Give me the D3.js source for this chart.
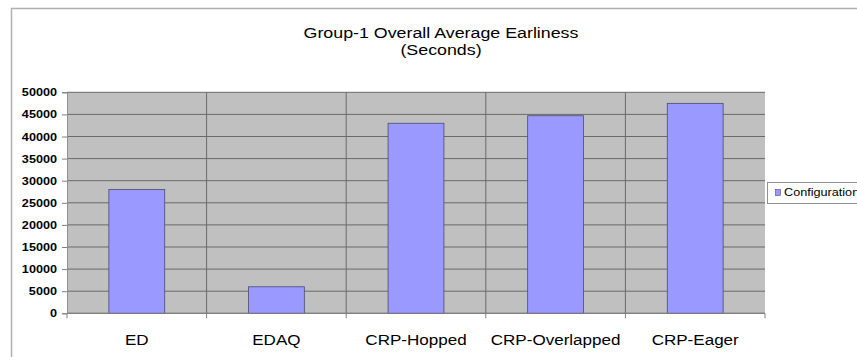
<!DOCTYPE html>
<html><head><meta charset="utf-8">
<script src="https://cdn.jsdelivr.net/npm/d3@7"></script>
<style>body{margin:0;background:#fff}svg{display:block}text{font-family:"Liberation Sans",Arial,sans-serif;fill:#000}</style>
</head><body><svg id="c" width="857" height="357"></svg>
<script>
const categories = ["ED","EDAQ","CRP-Hopped","CRP-Overlapped","CRP-Eager"];
const values = [28000,6000,43000,44700,47500];
const yTicks = [0,5000,10000,15000,20000,25000,30000,35000,40000,45000,50000];
const seriesName = "Configuration";
const titleLines = ["Group-1 Overall Average Earliness","(Seconds)"];

const svg = d3.select("#c");
const L=67,R=765,T=92.3,B=313.3, SX=1.15;
// outer chart frame
svg.append("rect").attr("x",11.5).attr("y",8.5).attr("width",900).attr("height",400)
  .attr("fill","none").attr("stroke","#b0b0b0").attr("stroke-width",1.5);

const x = d3.scaleBand().domain(categories).range([L,R]).paddingInner(0).paddingOuter(0);
const y = d3.scaleLinear().domain([0,50000]).range([B,T]);

svg.append("rect").attr("x",L).attr("y",T).attr("width",R-L).attr("height",B-T).attr("fill","#c0c0c0");

// horizontal grid
svg.append("g").selectAll("line").data(yTicks).join("line")
  .attr("x1",L).attr("x2",R).attr("y1",d=>y(d)).attr("y2",d=>y(d))
  .attr("stroke","#6a6a6a").attr("stroke-width",1);
// vertical grid at category boundaries
const bounds = categories.map(c=>x(c)).concat([R]);
svg.append("g").selectAll("line").data(bounds.slice(1,-1)).join("line")
  .attr("x1",d=>d).attr("x2",d=>d).attr("y1",T).attr("y2",B)
  .attr("stroke","#6a6a6a").attr("stroke-width",1);

// bars
const bw = x.bandwidth()*0.4;
svg.append("g").selectAll("rect").data(values).join("rect")
  .attr("x",(d,i)=>x(categories[i])+x.bandwidth()/2-bw/2)
  .attr("width",bw)
  .attr("y",d=>y(d)).attr("height",d=>B-y(d))
  .attr("fill","#9999ff").attr("stroke","#4a4a70").attr("stroke-width",0.8);

// y axis
const ya = svg.append("g").attr("transform",`translate(${L},0)`)
  .call(d3.axisLeft(y).tickValues(yTicks).tickSize(5).tickPadding(5).tickFormat(d3.format("d")));
ya.select(".domain").attr("stroke","#909090");
ya.selectAll(".tick line").attr("stroke","#808080");
ya.selectAll(".tick text").each(function(){
  const t=d3.select(this); const xx=+t.attr("x");
  t.attr("x",null).attr("transform",`translate(${xx},0) scale(${SX},1)`);
}).attr("font-size","11px").attr("font-weight","bold").style("font-family","Liberation Sans, Arial, sans-serif");

// x axis
svg.append("line").attr("x1",L).attr("x2",R).attr("y1",B).attr("y2",B).attr("stroke","#808080");
svg.append("g").selectAll("line").data(bounds).join("line")
  .attr("x1",d=>d).attr("x2",d=>d).attr("y1",B).attr("y2",B+5).attr("stroke","#808080");
svg.append("g").selectAll("text").data(categories).join("text")
  .attr("transform",d=>`translate(${x(d)+x.bandwidth()/2},345) scale(1.1,1)`).attr("text-anchor","middle")
  .attr("font-size","15.5px").text(d=>d);

// title
svg.append("g").selectAll("text").data(titleLines).join("text")
  .attr("transform",(d,i)=>`translate(441,${38+i*17}) scale(${SX},1)`).attr("text-anchor","middle")
  .attr("font-size","15.5px").text(d=>d);

// legend
const lg = svg.append("g");
lg.append("rect").attr("x",767.5).attr("y",182.5).attr("width",100).attr("height",21)
  .attr("fill","#fff").attr("stroke","#909090");
lg.append("rect").attr("x",775.5).attr("y",189.5).attr("width",5).attr("height",6)
  .attr("fill","#9999ff").attr("stroke","#4a4a70").attr("stroke-width",0.6);
lg.append("text").attr("transform",`translate(784,196) scale(${SX},1)`).attr("font-size","11px").text(seriesName);
</script></body></html>
